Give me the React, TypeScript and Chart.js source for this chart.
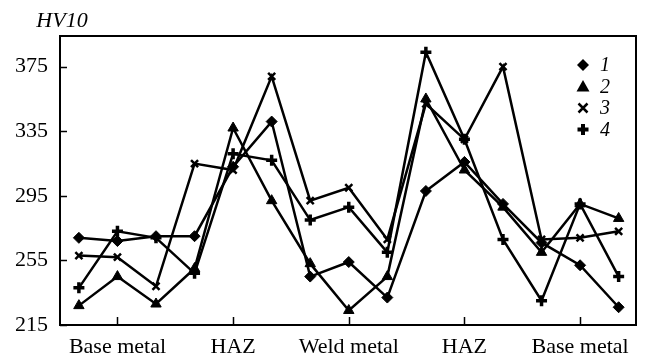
import React, { useEffect, useRef } from "react";
import { Chart, registerables } from "chart.js";

Chart.register(...registerables);

const positions = [0, 1, 2, 3, 4, 5, 6, 7, 8, 9, 10, 11, 12, 13, 14];
const categoryLabels = ["Base metal", "HAZ", "Weld metal", "HAZ", "Base metal"];
const categoryIndex = [1, 4, 7, 10, 13];
const yTicks = [215, 255, 295, 335, 375];
const series1 = [269, 267, 270, 270, 313, 341, 245, 254, 232, 298, 316, 290, 266, 252, 226];
const series2 = [227, 245, 228, 250, 337, 292, 253, 224, 245, 355, 311, 288, 260, 290, 281];
const series3 = [258, 257, 239, 315, 311, 369, 292, 300, 268, 352, 330, 375, 268, 269, 273];
const series4 = [238, 273, 269, 247, 321, 317, 280, 288, 260, 384, 330, 268, 230, 290, 245];
const legendLabels = ["1", "2", "3", "4"];
const yTitle = "HV10";

const FONT = "'Liberation Serif', 'Times New Roman', serif";

function drawMarker(ctx: CanvasRenderingContext2D, kind: number, x: number, y: number) {
  ctx.save();
  ctx.fillStyle = "#000";
  ctx.strokeStyle = "#000";
  ctx.beginPath();
  if (kind === 0) {
    const r = 6;
    ctx.moveTo(x, y - r);
    ctx.lineTo(x + r, y);
    ctx.lineTo(x, y + r);
    ctx.lineTo(x - r, y);
    ctx.closePath();
    ctx.fill();
  } else if (kind === 1) {
    const r = 6.5;
    ctx.moveTo(x, y - r);
    ctx.lineTo(x + r, y + r * 0.75);
    ctx.lineTo(x - r, y + r * 0.75);
    ctx.closePath();
    ctx.fill();
  } else if (kind === 2) {
    const r = 4.5;
    ctx.lineWidth = 2.5;
    ctx.moveTo(x - r, y - r);
    ctx.lineTo(x + r, y + r);
    ctx.moveTo(x + r, y - r);
    ctx.lineTo(x - r, y + r);
    ctx.stroke();
  } else {
    const r = 5.5;
    ctx.lineWidth = 4;
    ctx.moveTo(x - r, y);
    ctx.lineTo(x + r, y);
    ctx.moveTo(x, y - r);
    ctx.lineTo(x, y + r);
    ctx.stroke();
  }
  ctx.restore();
}

const framePlugin = {
  id: "framePlugin",
  afterDraw(chart: any) {
    const { ctx, chartArea } = chart;
    const { left, right, top, bottom } = chartArea;
    const xs = chart.scales.x;
    const ys = chart.scales.y;
    ctx.save();
    ctx.strokeStyle = "#000";
    ctx.lineWidth = 2;
    ctx.strokeRect(left, top, right - left, bottom - top);
    ctx.beginPath();
    ctx.lineWidth = 1.5;
    yTicks.forEach((v) => {
      const py = Math.round(ys.getPixelForValue(v)) + 0.5;
      ctx.moveTo(left, py);
      ctx.lineTo(left + 7, py);
    });
    categoryIndex.forEach((v) => {
      const px = Math.round(xs.getPixelForValue(v)) + 0.5;
      ctx.moveTo(px, bottom);
      ctx.lineTo(px, bottom - 8);
    });
    ctx.stroke();

    ctx.fillStyle = "#000";
    ctx.font = "italic 22px " + FONT;
    ctx.textAlign = "center";
    ctx.textBaseline = "alphabetic";
    ctx.fillText(yTitle, 62, 27);

    const rows = [65, 86.5, 108, 129.5];
    ctx.font = "italic 20px " + FONT;
    ctx.textAlign = "left";
    ctx.textBaseline = "middle";
    legendLabels.forEach((lab, i) => {
      drawMarker(ctx, i, 583, rows[i]);
      ctx.fillText(lab, 600, rows[i] + 1);
    });
    ctx.restore();
  },
};

export default function App() {
  const ref = useRef<HTMLCanvasElement | null>(null);
  useEffect(() => {
    if (!ref.current) return;
    const mk = (d: number[]) => d.map((v, i) => ({ x: positions[i], y: v }));
    const common = {
      borderColor: "#000",
      backgroundColor: "#000",
      pointBackgroundColor: "#000",
      pointBorderColor: "#000",
      borderWidth: 2.5,
      tension: 0,
      fill: false,
    };
    const chart = new Chart(ref.current, {
      type: "line",
      data: {
        datasets: [
          { ...common, label: legendLabels[0], data: mk(series1), pointStyle: "rectRot", pointRadius: 5.5, pointBorderWidth: 1 },
          { ...common, label: legendLabels[1], data: mk(series2), pointStyle: "triangle", pointRadius: 6, pointBorderWidth: 1 },
          { ...common, label: legendLabels[2], data: mk(series3), pointStyle: "crossRot", pointRadius: 5, pointBorderWidth: 2.5 },
          { ...common, label: legendLabels[3], data: mk(series4), pointStyle: "cross", pointRadius: 5.5, pointBorderWidth: 3.5 },
        ],
      },
      options: {
        animation: false,
        responsive: false,
        maintainAspectRatio: false,
        layout: { padding: { left: 0, right: 10, top: 36, bottom: 0 } },
        plugins: { legend: { display: false }, tooltip: { enabled: false } },
        scales: {
          x: {
            type: "linear",
            min: -0.49,
            max: 14.45,
            grid: { display: false, drawTicks: false },
            border: { display: false },
            afterBuildTicks: (scale: any) => {
              scale.ticks = categoryIndex.map((v) => ({ value: v }));
            },
            afterFit: (scale: any) => {
              scale.height = 31;
            },
            ticks: {
              autoSkip: false,
              maxRotation: 0,
              padding: 9,
              color: "#000",
              font: { family: FONT, size: 22 },
              callback: (v: any) => {
                const k = categoryIndex.indexOf(Number(v));
                return k >= 0 ? categoryLabels[k] : "";
              },
            },
          },
          y: {
            type: "linear",
            min: 215,
            max: 394,
            grid: { display: false, drawTicks: false },
            border: { display: false },
            afterBuildTicks: (scale: any) => {
              scale.ticks = yTicks.map((v) => ({ value: v }));
            },
            afterFit: (scale: any) => {
              scale.width = 60;
            },
            ticks: {
              padding: 12,
              color: "#000",
              font: { family: FONT, size: 22 },
            },
          },
        },
      },
      plugins: [framePlugin],
    } as any);
    return () => chart.destroy();
  }, []);
  return (
    <div style={{ position: "absolute", left: 0, top: 0, width: 646, height: 356, background: "#fff" }}>
      <canvas ref={ref} width={646} height={356} />
    </div>
  );
}
